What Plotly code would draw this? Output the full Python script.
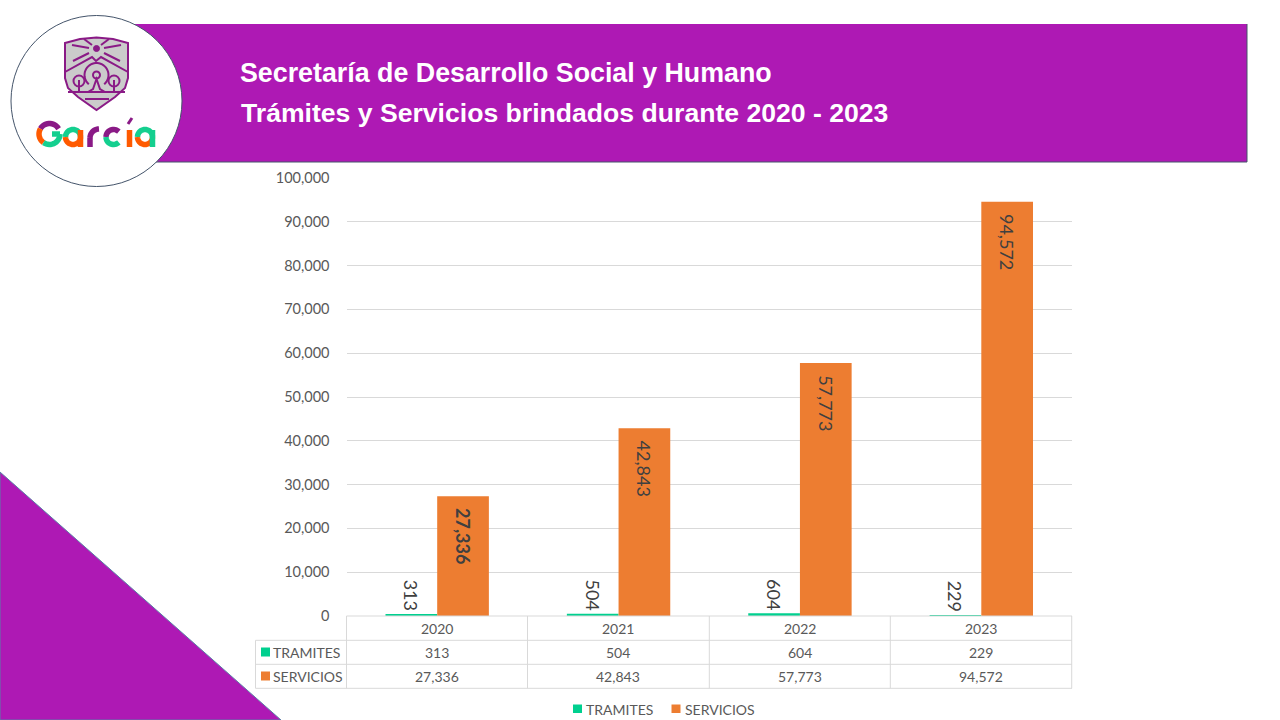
import math
import plotly.graph_objects as go

# datos de la grafica
years = ["2020", "2021", "2022", "2023"]
tramites = [313, 504, 604, 229]
servicios = [27336, 42843, 57773, 94572]
tick_values = [0, 10000, 20000, 30000, 40000, 50000, 60000, 70000, 80000, 90000, 100000]

PURPLE = "#ae19b4"
BORDER = "#44546a"
GREEN = "#00d08f"
ORANGE = "#ed7d31"
GRID = "#d9d9d9"
TEXT = "#595959"
LOGO_PURPLE = "#8a1a86"
LOGO_ORANGE = "#ff5a00"
LOGO_GREEN = "#14cf8f"
W, H = 1280, 720
FONT = "Lato"
NBSP = "\u00a0"

# limites del area de trazado, en pixeles
LEFT, RIGHT, TOP, BOTTOM = 346.5, 1072, 178, 616


def px(x):
    return x / W


def py(y):
    return 1 - y / H


def paper_path(points, close=False):
    d = "M " + " L ".join(f"{px(x):.5f},{py(y):.5f}" for x, y in points)
    return d + (" Z" if close else "")


shapes = []


def add_path(points, color=None, fill=None, width=1, close=False):
    shapes.append(dict(type="path", xref="paper", yref="paper", path=paper_path(points, close),
                       line=dict(color=color or "rgba(0,0,0,0)", width=width),
                       fillcolor=fill or "rgba(0,0,0,0)", layer="above"))


def add_line(x0, y0, x1, y1, color=GRID, width=1):
    add_path([(x0, y0), (x1, y1)], color=color, width=width)


def add_arc(cx, cy, r, a0, a1, color, width=1.5):
    steps = max(6, int(abs(a1 - a0) / 8))
    pts = [(cx + r * math.cos(math.radians(a0 + (a1 - a0) * i / steps)),
            cy - r * math.sin(math.radians(a0 + (a1 - a0) * i / steps))) for i in range(steps + 1)]
    add_path(pts, color=color, width=width)


def add_circle(cx, cy, r, color, fill="white", width=1):
    shapes.append(dict(type="circle", xref="paper", yref="paper",
                       x0=px(cx - r), x1=px(cx + r), y0=py(cy + r), y1=py(cy - r),
                       line=dict(color=color, width=width), fillcolor=fill, layer="above"))


# banner, triangulo y circulo del logo
add_path([(135, 24), (1247, 24), (1247, 162), (135, 162)], fill=PURPLE, close=True)
add_path([(1247, 24), (1247, 162), (135, 162)], color=BORDER)
add_path([(0, 472), (281, 720), (0, 720)], color="#5b7fa8", fill=PURPLE, close=True)
add_circle(96.5, 101, 85.5, BORDER, width=1)

# escudo
add_path([(65, 43), (80, 39), (96.5, 37.5), (113, 39), (128, 43), (128, 78), (125, 88), (115, 97),
          (96.5, 110), (78, 97), (68, 88), (65, 78)], color=LOGO_PURPLE, fill="#cbcbcb", width=2, close=True)
add_circle(96.5, 48.5, 3, LOGO_PURPLE, fill=LOGO_PURPLE)
for ray in [[(72, 45), (89, 48)], [(73, 61), (89, 53)], [(121, 45), (104, 48)], [(120, 61), (104, 53)],
            [(84, 39), (92, 45)], [(109, 39), (101, 45)]]:
    add_line(ray[0][0], ray[0][1], ray[1][0], ray[1][1], color=LOGO_PURPLE, width=2)
add_path([(65, 72), (92, 57), (96, 61), (101, 57), (128, 72)], color=LOGO_PURPLE, width=2)
add_arc(96.5, 75, 12, -50, 230, LOGO_PURPLE, 2)
add_circle(96.5, 75, 3.5, LOGO_PURPLE, fill="rgba(0,0,0,0)", width=2)
add_circle(79, 81, 5.5, LOGO_PURPLE, fill="rgba(0,0,0,0)", width=2)
add_circle(114, 81, 5.5, LOGO_PURPLE, fill="rgba(0,0,0,0)", width=2)
add_path([(88, 92), (93, 89), (96.5, 79), (100, 89), (105, 92)], color=LOGO_PURPLE, width=2)
add_line(79, 80, 79, 92, color=LOGO_PURPLE, width=2)
add_line(114, 80, 114, 92, color=LOGO_PURPLE, width=2)
add_line(68, 92, 125, 92, color=LOGO_PURPLE, width=2)
add_line(85, 99, 109, 99, color=LOGO_PURPLE, width=2)

# letras de Garcia
S = 5.5
add_arc(49.5, 134, 10.5, 30, 150, LOGO_PURPLE, S)
add_arc(49.5, 134, 10.5, 150, 235, LOGO_ORANGE, S)
add_arc(49.5, 134, 10.5, 235, 360, LOGO_GREEN, S)
add_line(52, 134, 60, 134, color=LOGO_GREEN, width=S)
add_arc(73, 137, 7.5, 0, 180, LOGO_GREEN, S)
add_arc(73, 137, 7.5, 180, 360, LOGO_ORANGE, S)
add_line(80.5, 130, 80.5, 147, color=LOGO_ORANGE, width=S)
add_line(90, 138, 90, 147, color=LOGO_PURPLE, width=S)
add_arc(99, 138, 9, 90, 180, LOGO_PURPLE, S)
add_arc(113.5, 137, 7.5, 45, 180, LOGO_PURPLE, S)
add_arc(113.5, 137, 7.5, 180, 315, LOGO_GREEN, S)
add_line(129.5, 130, 129.5, 147, color=LOGO_ORANGE, width=S)
add_line(128, 124, 132, 118, color=LOGO_PURPLE, width=3)
add_arc(145, 137, 7.5, 0, 180, LOGO_GREEN, S)
add_arc(145, 137, 7.5, 180, 360, LOGO_ORANGE, S)
add_line(152.5, 130, 152.5, 147, color=LOGO_GREEN, width=S)

# tabla de datos
row_y = [616, 640.3, 664.3, 688.3]
col_x = [346.5, 527.5, 709.3, 890.3, 1071.7]
for y in row_y:
    add_line(346.5 if y == row_y[0] else 255.5, y, 1072, y)
for x in col_x:
    add_line(x, 616, x, 688.3)
add_line(255.5, 640.3, 255.5, 688.3)

annotations = []


def add_text(x, y, text, size=14, color=TEXT, anchor="center", weight="normal", font=FONT):
    annotations.append(dict(xref="paper", yref="paper", x=px(x), y=py(y), text=text, showarrow=False,
                            xanchor=anchor, yanchor="middle", font=dict(family=font, size=size, color=color, weight=weight)))


add_text(238, 73, "Secretaría de Desarrollo Social y Humano", size=26.8, color="white", anchor="left",
         weight="bold", font="Liberation Sans")
add_text(239, 113, "Trámites y Servicios brindados durante 2020 - 2023", size=26.6, color="white", anchor="left",
         weight="bold", font="Liberation Sans")

for i, year in enumerate(years):
    cx = (col_x[i] + col_x[i + 1]) / 2
    add_text(cx, 628, year)
    add_text(cx, 652, f"{tramites[i]:,}")
    add_text(cx, 676, f"{servicios[i]:,}")

for label, color, y in [("TRAMITES", GREEN, 652), ("SERVICIOS", ORANGE, 676)]:
    add_path([(261, y - 4.5), (270, y - 4.5), (270, y + 4.5), (261, y + 4.5)], fill=color, close=True)
    add_text(271, y, label, anchor="left")

for label, color, x in [("TRAMITES", GREEN, 573), ("SERVICIOS", ORANGE, 671.5)]:
    add_path([(x, 704.5), (x + 9, 704.5), (x + 9, 713), (x, 713)], fill=color, close=True)
    add_text(x + 11, 709, label, anchor="left")

fig = go.Figure()
fig.add_trace(go.Bar(x=years, y=tramites, name="TRAMITES", marker=dict(color=GREEN, line=dict(width=0)),
                     text=[f"{v:,}" for v in tramites], textposition="outside", textangle=90,
                     textfont=dict(family=FONT, size=18, color="#404040"), cliponaxis=False))
fig.add_trace(go.Bar(x=years, y=servicios, name="SERVICIOS", marker=dict(color=ORANGE, line=dict(width=0)),
                     text=[(f"<b>{NBSP * 2}{v:,}</b>" if i == 0 else f"{NBSP * 2}{v:,}") for i, v in enumerate(servicios)],
                     textposition="inside", insidetextanchor="end", textangle=90,
                     textfont=dict(family=FONT, size=18, color="#404040")))

fig.update_layout(
    width=W, height=H, barmode="group", bargap=0.43, bargroupgap=0,
    margin=dict(l=0, r=0, t=0, b=0), showlegend=False,
    paper_bgcolor="white", plot_bgcolor="white",
    font=dict(family=FONT, size=14, color=TEXT),
    xaxis=dict(domain=[px(LEFT), px(RIGHT)], showticklabels=False, ticks="", showgrid=False, zeroline=False,
               automargin=False),
    yaxis=dict(domain=[py(BOTTOM), py(TOP)], range=[0, 100000], tickvals=tick_values, tickformat=",",
               gridcolor=GRID, gridwidth=1, zeroline=False, ticks="", ticklabelstandoff=16, automargin=False,
               tickfont=dict(family=FONT, size=14.5, color=TEXT), anchor="x"),
    shapes=shapes, annotations=annotations,
)

# sin margen del body para que la figura ocupe justo la ventana
fig.write_html("out.html", config={"displayModeBar": False},
               post_script="document.body.style.margin='0';")
